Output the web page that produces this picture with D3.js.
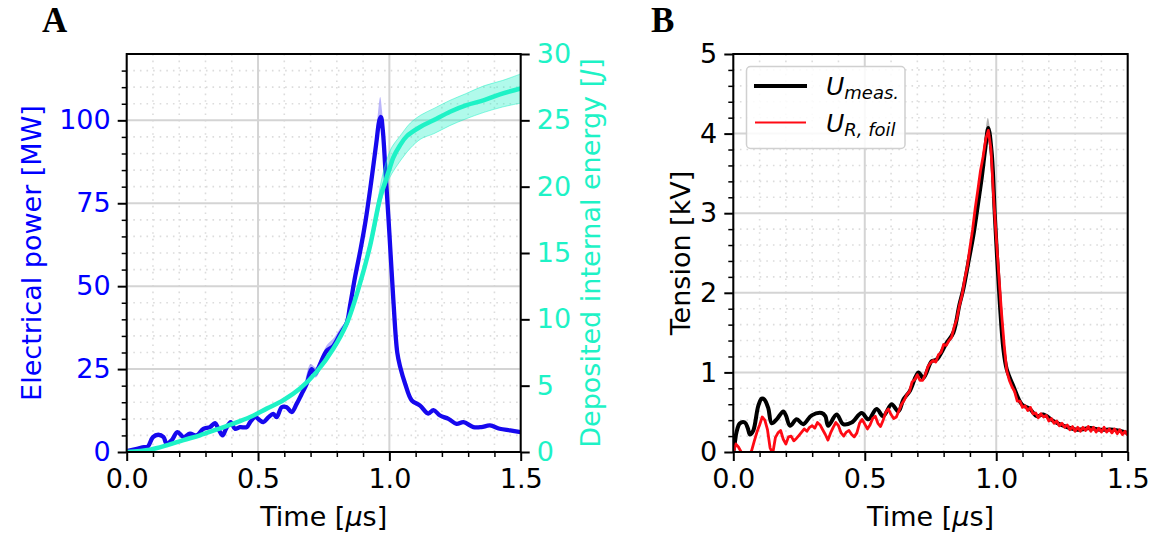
<!DOCTYPE html>
<html>
<head>
<meta charset="utf-8">
<script src="https://cdn.jsdelivr.net/npm/d3@7"></script>
<style>
  body { margin: 0; background: #fff; }
  svg { display: block; }
  text { font-family: "DejaVu Sans", sans-serif; }
</style>
</head>
<body>
<svg id="fig" width="1175" height="535"></svg>
<script>
// ---- data ----
// panel A : electrical power [MW] vs time [us]
const powerSeries = [
  [0, 0.3], [0.03, 0.8], [0.06, 1.4], [0.08, 1.6], [0.10, 4.5], [0.12, 5.2], [0.14, 4.5],
  [0.152, 2.5], [0.171, 3.5], [0.193, 6.0], [0.216, 4.5], [0.241, 5.5], [0.266, 5.0],
  [0.292, 7.0], [0.317, 7.5], [0.336, 8.7], [0.349, 7.0], [0.365, 5.0], [0.378, 7.0],
  [0.396, 9.0], [0.412, 7.0], [0.431, 7.5], [0.457, 7.5], [0.47, 9.0], [0.489, 10.5],
  [0.508, 9.5], [0.52, 9.0], [0.54, 10.5], [0.558, 11.5], [0.571, 10.5], [0.59, 13.5],
  [0.609, 13.5], [0.628, 12.0], [0.647, 14.5], [0.666, 17.5], [0.685, 20.5], [0.704, 25.0],
  [0.717, 23.5], [0.736, 26.5], [0.761, 30.5], [0.787, 32.0], [0.812, 35.5], [0.838, 39.0],
  [0.85, 44], [0.87, 53], [0.89, 61], [0.91, 70], [0.93, 81], [0.95, 93], [0.962, 100],
  [0.968, 101], [0.975, 97], [0.985, 85], [1.0, 66], [1.015, 46], [1.03, 30], [1.041, 25.7],
  [1.06, 20.6], [1.085, 15.6], [1.117, 14.0], [1.148, 11.6], [1.168, 12.6], [1.193, 11.0],
  [1.225, 10.0], [1.256, 8.5], [1.282, 9.0], [1.32, 7.5], [1.35, 7.5], [1.383, 8.0],
  [1.42, 7.0], [1.46, 6.5], [1.5, 6.0]
];
// shaded spread of the power curve [t, low, high]
const powerBand = [
  [0.68, 19.5, 21.5], [0.70, 23.5, 26.5], [0.72, 22.5, 25.5], [0.74, 25.5, 28], [0.76, 29.5, 32],
  [0.79, 31, 34.5], [0.81, 34.5, 37], [0.84, 38.5, 40.5], [0.87, 52.5, 54], [0.91, 69.5, 71],
  [0.94, 86, 89], [0.955, 95, 101], [0.965, 99, 107], [0.972, 96, 103], [0.98, 90, 93],
  [0.99, 79, 81], [1.0, 65, 67]
];
// panel A : deposited internal energy [J]
const energySeries = [
  [0, 0], [0.089, 0.18], [0.152, 0.5], [0.216, 0.9], [0.279, 1.26], [0.343, 1.7], [0.406, 2.14],
  [0.47, 2.64], [0.533, 3.27], [0.596, 3.9], [0.66, 4.78], [0.723, 6.04], [0.787, 7.8],
  [0.838, 9.7], [0.888, 12.7], [0.926, 15.5], [0.964, 19.1], [0.983, 20.3], [1.003, 21.5],
  [1.015, 22.2], [1.04, 23.1], [1.066, 23.8], [1.117, 24.5], [1.168, 25.0], [1.231, 25.65],
  [1.294, 26.15], [1.358, 26.5], [1.421, 26.96], [1.5, 27.4]
];
const energyBand = [
  [0.90, 13.4, 13.9], [0.94, 16.3, 17.1], [0.97, 19.0, 20.5], [0.99, 20.2, 22.0], [1.01, 21.0, 23.0],
  [1.04, 21.9, 23.8], [1.08, 22.9, 24.8], [1.12, 23.6, 25.4], [1.17, 24.0, 25.9], [1.23, 24.6, 26.5],
  [1.29, 25.1, 27.0], [1.36, 25.6, 27.6], [1.43, 26.0, 28.0], [1.5, 26.3, 28.5]
];
// panel B : measured tension [kV]
const measSeries = [
  [0, 0], [0.006, 0.12], [0.013, 0.26], [0.025, 0.36], [0.044, 0.37], [0.055, 0.3], [0.063, 0.22],
  [0.076, 0.27], [0.095, 0.58], [0.108, 0.67], [0.118, 0.66], [0.133, 0.55], [0.146, 0.36],
  [0.165, 0.41], [0.19, 0.51], [0.2, 0.46], [0.216, 0.33], [0.241, 0.41], [0.266, 0.35],
  [0.298, 0.46], [0.336, 0.49], [0.35, 0.45], [0.361, 0.33], [0.393, 0.47], [0.418, 0.35],
  [0.45, 0.37], [0.488, 0.49], [0.514, 0.41], [0.545, 0.54], [0.57, 0.45], [0.602, 0.60],
  [0.628, 0.51], [0.647, 0.66], [0.672, 0.77], [0.704, 1.0], [0.723, 0.93], [0.754, 1.14],
  [0.773, 1.16], [0.811, 1.37], [0.837, 1.5], [0.86, 1.85], [0.875, 2.05], [0.895, 2.4],
  [0.913, 2.72], [0.93, 3.1], [0.945, 3.45], [0.958, 3.8], [0.97, 4.07], [0.983, 3.75],
  [0.995, 2.95], [1.014, 1.85], [1.027, 1.3], [1.04, 1.04], [1.065, 0.83], [1.097, 0.6],
  [1.128, 0.54], [1.154, 0.45], [1.179, 0.47], [1.217, 0.39], [1.255, 0.33], [1.306, 0.28],
  [1.357, 0.3], [1.395, 0.28], [1.446, 0.28], [1.5, 0.24]
];
const measBand = [
  [0.94, 3.25, 3.4], [0.955, 3.7, 3.9], [0.968, 4.0, 4.2], [0.978, 3.85, 4.0], [0.99, 3.25, 3.35]
];
// panel B : resistive foil tension [kV], one sample every 0.01 us from 0
const foilStep = 0.01;
const foilKV = [
  0.00, 0.10, 0.06, 0.00, -0.03, -0.02, -0.04, 0.02, 0.14, 0.25,
  0.34, 0.44, 0.40, 0.28, 0.05, -0.02, 0.18, 0.24, 0.27, 0.16,
  0.10, 0.19, 0.20, 0.14, 0.17, 0.21, 0.25, 0.29, 0.26, 0.31,
  0.33, 0.30, 0.37, 0.34, 0.28, 0.22, 0.15, 0.24, 0.31, 0.37,
  0.33, 0.24, 0.20, 0.25, 0.27, 0.22, 0.19, 0.24, 0.36, 0.41,
  0.35, 0.29, 0.34, 0.42, 0.45, 0.36, 0.32, 0.40, 0.50, 0.54,
  0.47, 0.42, 0.44, 0.52, 0.60, 0.65, 0.72, 0.76, 0.88, 0.91,
  0.97, 0.90, 0.90, 0.97, 1.07, 1.12, 1.15, 1.13, 1.22, 1.25,
  1.35, 1.34, 1.40, 1.44, 1.57, 1.67, 1.84, 1.97, 2.17, 2.33,
  2.57, 2.79, 3.06, 3.29, 3.53, 3.71, 3.93, 4.04, 3.80, 3.20,
  2.70, 2.22, 1.75, 1.35, 1.02, 0.90, 0.82, 0.76, 0.64, 0.64,
  0.56, 0.58, 0.52, 0.56, 0.48, 0.49, 0.43, 0.48, 0.44, 0.46,
  0.39, 0.42, 0.36, 0.39, 0.33, 0.36, 0.31, 0.34, 0.28, 0.32,
  0.26, 0.31, 0.26, 0.31, 0.27, 0.32, 0.26, 0.31, 0.25, 0.30,
  0.25, 0.31, 0.25, 0.29, 0.24, 0.29, 0.23, 0.28, 0.22, 0.26, 0.21
];

// ticks
const timeTicks = [0, 0.5, 1.0, 1.5];
const powerTicks = [0, 25, 50, 75, 100];
const energyTicks = [0, 5, 10, 15, 20, 25, 30];
const tensionTicks = [0, 1, 2, 3, 4, 5];

// ---- style ----
const BLUE = "#1608ee";
const BLUE_TXT = "#0000ff";
const CYAN = "#1ef2c6";
const RED = "#ff0a14";
const TICK_FS = 27;
const LABEL_FS = 27;

const svg = d3.select("#fig");

function minorValues(max, step, majors) {
  return d3.range(step, max - step / 2, step)
    .map(v => +v.toFixed(4))
    .filter(v => !majors.some(m => Math.abs(m - v) < 1e-6));
}

function styleAxis(sel, width, color) {
  sel.select(".domain").remove();
  sel.selectAll(".tick line").attr("stroke", "#000").attr("stroke-width", width);
  sel.selectAll(".tick text")
    .attr("fill", color || "#000")
    .style("font-size", TICK_FS + "px")
    .style("font-family", "DejaVu Sans");
}

function panel(cfg) {
  const x = d3.scaleLinear().domain([0, 1.5]).range([cfg.left, cfg.right]);
  const y = d3.scaleLinear().domain([0, cfg.yMax]).range([cfg.bottom, cfg.top]);
  const g = svg.append("g");

  const xMinor = minorValues(1.5, 0.1, timeTicks);
  const yMinor = minorValues(cfg.yMax, cfg.yMinorStep, cfg.yTicks);

  // dotted minor grid
  const grid = g.append("g");
  grid.selectAll(".vmin").data(xMinor).enter().append("line")
    .attr("x1", d => x(d)).attr("x2", d => x(d))
    .attr("y1", cfg.top).attr("y2", cfg.bottom)
    .attr("stroke", "#dcdcdc").attr("stroke-width", 1.6).attr("stroke-dasharray", "1.6,5");
  grid.selectAll(".hmin").data(yMinor).enter().append("line")
    .attr("x1", cfg.left).attr("x2", cfg.right)
    .attr("y1", d => y(d)).attr("y2", d => y(d))
    .attr("stroke", "#dcdcdc").attr("stroke-width", 1.6).attr("stroke-dasharray", "1.6,5");
  // solid major grid
  grid.selectAll(".vmaj").data(timeTicks).enter().append("line")
    .attr("x1", d => x(d)).attr("x2", d => x(d))
    .attr("y1", cfg.top).attr("y2", cfg.bottom)
    .attr("stroke", "#d4d4d4").attr("stroke-width", 2);
  grid.selectAll(".hmaj").data(cfg.yTicks).enter().append("line")
    .attr("x1", cfg.left).attr("x2", cfg.right)
    .attr("y1", d => y(d)).attr("y2", d => y(d))
    .attr("stroke", "#d4d4d4").attr("stroke-width", 2);

  // clip for the data
  const clipId = "clip" + cfg.id;
  svg.append("clipPath").attr("id", clipId).append("rect")
    .attr("x", cfg.left).attr("y", cfg.top)
    .attr("width", cfg.right - cfg.left).attr("height", cfg.bottom - cfg.top);
  const plot = g.append("g").attr("clip-path", `url(#${clipId})`);

  // axes
  const bx = g.append("g").attr("transform", `translate(0,${cfg.bottom})`);
  bx.append("g").call(d3.axisBottom(x).tickValues(xMinor).tickSize(5).tickFormat(""))
    .call(s => styleAxis(s, 1.5));
  bx.append("g").call(d3.axisBottom(x).tickValues(timeTicks).tickSize(9).tickPadding(8)
      .tickFormat(d3.format(".1f")))
    .call(s => styleAxis(s, 2));

  const ly = g.append("g").attr("transform", `translate(${cfg.left},0)`);
  ly.append("g").call(d3.axisLeft(y).tickValues(yMinor).tickSize(5).tickFormat(""))
    .call(s => styleAxis(s, 1.5));
  ly.append("g").call(d3.axisLeft(y).tickValues(cfg.yTicks).tickSize(9).tickPadding(7)
      .tickFormat(d3.format("d")))
    .call(s => styleAxis(s, 2, cfg.yColor));

  // y label
  g.append("text")
    .attr("transform", `translate(${cfg.yLabelX},${(cfg.top + cfg.bottom) / 2}) rotate(-90)`)
    .attr("text-anchor", "middle")
    .attr("fill", cfg.yColor)
    .style("font-size", LABEL_FS + "px")
    .text(cfg.yLabel);

  // x label
  const xl = g.append("text")
    .attr("x", (cfg.left + cfg.right) / 2).attr("y", 526)
    .attr("text-anchor", "middle")
    .style("font-size", LABEL_FS + "px");
  xl.append("tspan").text("Time [");
  xl.append("tspan").text("\u03bc").style("font-style", "italic");
  xl.append("tspan").text("s]");

  // panel letter
  g.append("text")
    .attr("x", cfg.letterX).attr("y", 32)
    .style("font-family", "'Liberation Serif', 'Times New Roman', serif")
    .style("font-weight", "bold")
    .style("font-size", "35px")
    .text(cfg.letter);

  return { g, plot, x, y };
}

// ============ PANEL A ============
const A = panel({
  id: "A", left: 126.7, right: 520.7, top: 54, bottom: 452,
  yMax: 120, yTicks: powerTicks, yMinorStep: 5, yColor: BLUE_TXT,
  yLabel: "Electrical power [MW]", yLabelX: 41, letter: "A", letterX: 42
});

const yE = d3.scaleLinear().domain([0, 30]).range([452, 54]);

const bandP = d3.area().curve(d3.curveCatmullRom)
  .x(d => A.x(d[0])).y0(d => A.y(d[1])).y1(d => A.y(d[2]));
A.plot.append("path").datum(powerBand).attr("d", bandP)
  .attr("fill", BLUE).attr("fill-opacity", 0.3);

A.plot.append("path").datum(powerSeries)
  .attr("d", d3.line().curve(d3.curveCatmullRom).x(d => A.x(d[0])).y(d => A.y(d[1])))
  .attr("fill", "none").attr("stroke", BLUE).attr("stroke-width", 4.3)
  .attr("stroke-linejoin", "round");

const bandE = d3.area().curve(d3.curveCatmullRom)
  .x(d => A.x(d[0])).y0(d => yE(d[1])).y1(d => yE(d[2]));
A.plot.append("path").datum(energyBand).attr("d", bandE)
  .attr("fill", CYAN).attr("fill-opacity", 0.35)
  .attr("stroke", CYAN).attr("stroke-opacity", 0.5).attr("stroke-width", 1);

A.plot.append("path").datum(energySeries)
  .attr("d", d3.line().curve(d3.curveCatmullRom).x(d => A.x(d[0])).y(d => yE(d[1])))
  .attr("fill", "none").attr("stroke", CYAN).attr("stroke-width", 4.5)
  .attr("stroke-linecap", "round");

// right axis (energy)
A.g.append("g").attr("transform", "translate(520.7,0)")
  .call(d3.axisRight(yE).tickValues(energyTicks).tickSize(9).tickPadding(7))
  .call(s => styleAxis(s, 2, CYAN));

const eLab = A.g.append("text")
  .attr("transform", `translate(600,253) rotate(-90)`)
  .attr("text-anchor", "middle")
  .attr("fill", CYAN)
  .style("font-size", LABEL_FS + "px");
eLab.append("tspan").text("Deposited internal energy [");
eLab.append("tspan").text("J").style("font-style", "italic");
eLab.append("tspan").text("]");

A.g.append("rect").attr("x", 126.7).attr("y", 54).attr("width", 394).attr("height", 398)
  .attr("fill", "none").attr("stroke", "#000").attr("stroke-width", 2);

// ============ PANEL B ============
const B = panel({
  id: "B", left: 733.3, right: 1127.7, top: 54, bottom: 452,
  yMax: 5, yTicks: tensionTicks, yMinorStep: 0.2, yColor: "#000",
  yLabel: "Tension [kV]", yLabelX: 690, letter: "B", letterX: 651
});

B.plot.append("path").datum(measBand)
  .attr("d", d3.area().curve(d3.curveCatmullRom)
    .x(d => B.x(d[0])).y0(d => B.y(d[1])).y1(d => B.y(d[2])))
  .attr("fill", "#000").attr("fill-opacity", 0.3);

B.plot.append("path").datum(measSeries)
  .attr("d", d3.line().curve(d3.curveCatmullRom).x(d => B.x(d[0])).y(d => B.y(d[1])))
  .attr("fill", "none").attr("stroke", "#000").attr("stroke-width", 4)
  .attr("stroke-linejoin", "round");

B.plot.append("path").datum(foilKV)
  .attr("d", d3.line().x((d, i) => B.x(i * foilStep)).y(d => B.y(d)))
  .attr("fill", "none").attr("stroke", RED).attr("stroke-width", 2.8)
  .attr("stroke-linejoin", "round");

B.g.append("rect").attr("x", 733.3).attr("y", 54).attr("width", 394.4).attr("height", 398)
  .attr("fill", "none").attr("stroke", "#000").attr("stroke-width", 2);

// legend
const leg = B.g.append("g");
leg.append("rect").attr("x", 746.5).attr("y", 66.5).attr("width", 158.5).attr("height", 82)
  .attr("rx", 4).attr("fill", "#fff").attr("fill-opacity", 0.85)
  .attr("stroke", "#d0d0d0").attr("stroke-width", 1.5);
leg.append("line").attr("x1", 754).attr("x2", 807).attr("y1", 86).attr("y2", 86)
  .attr("stroke", "#000").attr("stroke-width", 4);
leg.append("line").attr("x1", 755).attr("x2", 806).attr("y1", 122.5).attr("y2", 122.5)
  .attr("stroke", RED).attr("stroke-width", 2);
const l1 = leg.append("text").attr("x", 826).attr("y", 95).style("font-style", "italic");
l1.append("tspan").text("U").style("font-size", "25px");
l1.append("tspan").text("meas.").style("font-size", "18px").attr("dy", 4);
const l2 = leg.append("text").attr("x", 826).attr("y", 132).style("font-style", "italic");
l2.append("tspan").text("U").style("font-size", "25px");
l2.append("tspan").text("R, foil").style("font-size", "18px").attr("dy", 4);
</script>
</body>
</html>
